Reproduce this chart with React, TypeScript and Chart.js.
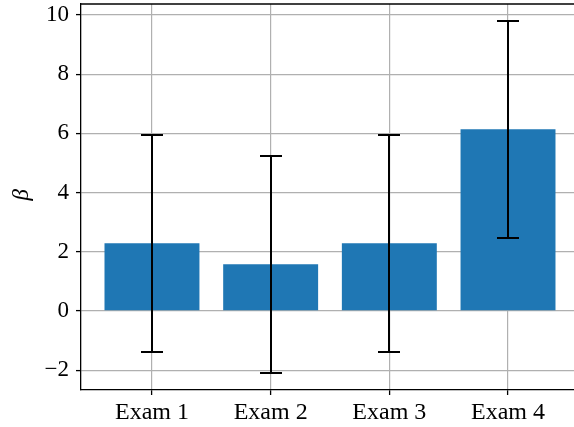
import React, { useEffect, useRef } from 'react';
import { Chart, registerables } from 'chart.js';

Chart.register(...registerables);

const categories = ['Exam 1', 'Exam 2', 'Exam 3', 'Exam 4'];
const betaValues = [2.29, 1.58, 2.29, 6.14];
const errorHalfWidths = [3.66, 3.66, 3.66, 3.66];
const yTickValues = [-2, 0, 2, 4, 6, 8, 10];

const FONT = 'Liberation Serif';

export default function App() {
  const ref = useRef<HTMLCanvasElement>(null);

  useEffect(() => {
    if (!ref.current) return;

    const errorBars = {
      id: 'errorBars',
      afterDraw(chart: any) {
        const { ctx, chartArea } = chart;
        const x = chart.scales.x;
        const y = chart.scales.y;
        ctx.save();
        ctx.strokeStyle = '#000';
        ctx.lineWidth = 2;
        betaValues.forEach((v, i) => {
          const px = Math.round(x.getPixelForValue(i));
          const lo = Math.round(y.getPixelForValue(v - errorHalfWidths[i]));
          const hi = Math.round(y.getPixelForValue(v + errorHalfWidths[i]));
          ctx.beginPath();
          ctx.moveTo(px, lo);
          ctx.lineTo(px, hi);
          ctx.moveTo(px - 11, lo);
          ctx.lineTo(px + 11, lo);
          ctx.moveTo(px - 11, hi);
          ctx.lineTo(px + 11, hi);
          ctx.stroke();
        });
        ctx.lineWidth = 1.3;
        ctx.beginPath();
        ctx.moveTo(chartArea.left - 0.65, chartArea.top);
        ctx.lineTo(chart.width, chartArea.top);
        ctx.stroke();
        ctx.restore();
      },
    };

    const chart = new Chart(ref.current, {
      type: 'bar',
      data: {
        datasets: [
          {
            label: 'beta',
            data: betaValues.map((v, i) => ({ x: i, y: v })),
            backgroundColor: '#1f77b4',
            borderWidth: 0,
            categoryPercentage: 1,
            barPercentage: 0.8,
          },
        ],
      },
      options: {
        animation: false,
        responsive: false,
        maintainAspectRatio: false,
        layout: { padding: { top: 4, right: 0, left: 0, bottom: 0 } },
        plugins: {
          legend: { display: false },
          tooltip: { enabled: false },
        },
        scales: {
          x: {
            type: 'linear',
            offset: false,
            min: -0.598,
            max: 3.556,
            z: 1,
            afterBuildTicks: (axis: any) => {
              axis.ticks = categories.map((_, i) => ({ value: i }));
            },
            afterFit: (axis: any) => {
              axis.height = 37;
              axis.paddingLeft = 0;
              axis.paddingRight = 0;
            },
            grid: {
              offset: false,
              color: '#b0b0b0',
              lineWidth: 1.2,
              tickLength: 5,
              tickColor: '#000',
              tickWidth: 1.3,
            },
            border: { display: true, color: '#000', width: 1.3 },
            ticks: {
              color: '#000',
              padding: 3,
              maxRotation: 0,
              autoSkip: false,
              font: { family: FONT, size: 24 },
              callback: (v: any) => categories[v as number] ?? '',
            },
          },
          y: {
            type: 'linear',
            min: -2.67,
            max: 10.37,
            z: 1,
            afterBuildTicks: (axis: any) => {
              axis.ticks = yTickValues.map((v) => ({ value: v }));
            },
            afterFit: (axis: any) => {
              axis.width = 81;
              axis.paddingTop = 0;
              axis.paddingBottom = 0;
            },
            grid: {
              color: '#b0b0b0',
              lineWidth: 1.2,
              tickLength: 5,
              tickColor: '#000',
              tickWidth: 1.3,
            },
            border: { display: true, color: '#000', width: 1.3 },
            title: {
              display: true,
              text: '\u2009β',
              color: '#000',
              font: { family: FONT, size: 23, style: 'italic' },
              padding: { top: 8, bottom: 0 },
            },
            ticks: {
              color: '#000',
              padding: 7,
              font: { family: FONT, size: 23 },
              callback: (v: any) => (v < 0 ? '\u2212' + Math.abs(v) : String(v)),
            },
          },
        },
      },
      plugins: [errorBars],
    });

    return () => chart.destroy();
  }, []);

  return (
    <div style={{ position: 'fixed', left: 0, top: 0, width: 574, height: 427, background: '#fff' }}>
      <canvas ref={ref} width={574} height={427} style={{ display: 'block', width: 574, height: 427 }} />
    </div>
  );
}
